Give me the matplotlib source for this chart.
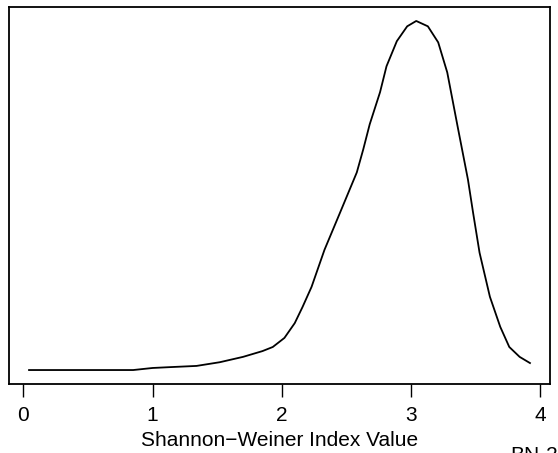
import matplotlib
matplotlib.use("Agg")
import matplotlib.pyplot as plt

plt.rcParams['font.family'] = ['Liberation Sans', 'DejaVu Sans']

# curva de densidad (x = indice, y = densidad)
indice = [0.044, 0.44, 0.85, 1.00, 1.13, 1.34, 1.52, 1.70, 1.85, 1.93,
          2.02, 2.10, 2.16, 2.23, 2.33, 2.45, 2.58, 2.63, 2.68, 2.76,
          2.81, 2.89, 2.97, 3.04, 3.13, 3.21, 3.28, 3.36, 3.44, 3.48,
          3.53, 3.61, 3.69, 3.76, 3.84, 3.92]
densidad = [0.000, 0.000, 0.000, 0.005, 0.007, 0.010, 0.019, 0.032, 0.046, 0.056,
            0.078, 0.114, 0.153, 0.202, 0.292, 0.382, 0.480, 0.536, 0.597, 0.675,
            0.738, 0.799, 0.835, 0.848, 0.835, 0.796, 0.723, 0.592, 0.463, 0.382,
            0.285, 0.178, 0.105, 0.056, 0.032, 0.017]
ticks = [0, 1, 2, 3, 4]

W, H = 558, 453
fig = plt.figure(figsize=(W / 100, H / 100), dpi=100)
ax = fig.add_axes([9 / W, 1 - 384 / H, (550 - 9) / W, (384 - 7) / H])

ax.plot(indice, densidad, color='black', linewidth=1.3)

# rango estilo R (4% extra)
xr = max(indice) - min(indice)
ax.set_xlim(min(indice) - 0.04 * xr, max(indice) + 0.04 * xr)
yr = max(densidad) - min(densidad)
ax.set_ylim(min(densidad) - 0.04 * yr, max(densidad) + 0.04 * yr)

for s in ax.spines.values():
    s.set_linewidth(1.3)
ax.set_yticks([])
ax.set_xticks(ticks)
ax.set_xticklabels([str(t) for t in ticks])
ax.tick_params(axis='x', length=9.5, width=1.0, labelsize=15, pad=6)
ax.set_xlabel("Shannon\u2212Weiner Index Value", fontsize=15, labelpad=5)

fig.text(510 / W, 1 - 446 / H, "BN-2", fontsize=15, ha='left', va='top')

fig.savefig("out.png", dpi=100)
